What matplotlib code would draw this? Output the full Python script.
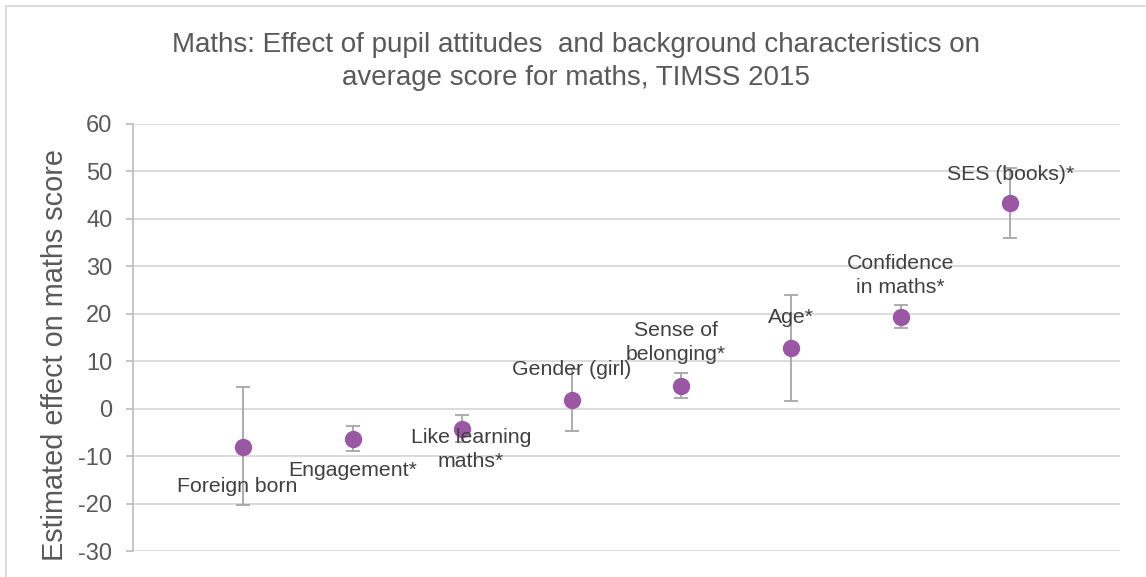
import matplotlib
matplotlib.use("Agg")
import matplotlib.pyplot as plt
from matplotlib.patches import Rectangle

plt.rcParams['font.family'] = ['Liberation Sans', 'DejaVu Sans']
plt.rcParams['axes.unicode_minus'] = False

labels = ["Foreign born", "Engagement*", "Like learning\nmaths*", "Gender (girl)",
          "Sense of\nbelonging*", "Age*", "Confidence\nin maths*", "SES (books)*"]
effect = [-8.0, -6.4, -4.2, 1.8, 4.85, 12.7, 19.3, 43.3]
ci_low = [-20.4, -9.0, -7.1, -4.7, 2.2, 1.7, 16.9, 35.9]
ci_high = [4.6, -3.7, -1.3, 8.3, 7.5, 23.9, 21.8, 50.7]

# label placement relative to each point (x offset in categories, y in score units)
label_dx = [-0.05, 0.0, 0.08, 0.0, -0.05, 0.0, 0.0, 0.0]
label_y = [-16.5, -13.0, -8.6, 8.2, 13.9, 19.2, 28.1, 49.4]

text_col = "#595959"
purple = "#9A57A3"

fig = plt.figure(figsize=(11.46, 5.77), dpi=100)
ax = fig.add_axes([133.3 / 1146, 1 - 551 / 577, (1120 - 133.3) / 1146, (551 - 124) / 577])

x = list(range(1, len(effect) + 1))
yerr = [[e - lo for e, lo in zip(effect, ci_low)],
        [hi - e for e, hi in zip(effect, ci_high)]]
ax.errorbar(x, effect, yerr=yerr, fmt='none', ecolor="#A6A6A6", elinewidth=1.3,
            capsize=5, capthick=1.3, zorder=2)
ax.plot(x, effect, 'o', color=purple, markersize=11.5, zorder=3)

for xi, lab, dx, ly in zip(x, labels, label_dx, label_y):
    ax.text(xi + dx, ly, lab, ha='center', va='center', fontsize=15.3,
            color="#404040", linespacing=1.3, zorder=4)

ax.set_xlim(0, 9)
ax.set_ylim(-30, 60)
ax.set_yticks(range(-30, 61, 10))
ax.set_xticks([])
ax.yaxis.grid(True, color="#D9D9D9", linewidth=1.3)
ax.set_axisbelow(True)
for s in ["top", "right", "bottom"]:
    ax.spines[s].set_visible(False)
ax.spines["left"].set_color("#BFBFBF")
ax.spines["left"].set_linewidth(1.3)
ax.tick_params(axis='y', length=5, width=1.3, color="#BFBFBF", pad=10,
               labelsize=17, labelcolor=text_col)

fig.text(55 / 1146, 1 - 355 / 577, "Estimated effect on maths score", rotation=90,
         ha='center', va='center', fontsize=20.8, color=text_col)

fig.text(0.503, 1 - 45 / 577, "Maths: Effect of pupil attitudes  and background characteristics on",
         ha='center', va='center', fontsize=20, color=text_col)
fig.text(0.503, 1 - 78 / 577, "average score for maths, TIMSS 2015",
         ha='center', va='center', fontsize=20, color=text_col)

# outer chart frame
fig.patches.append(Rectangle((6 / 1146, -0.2), 1.2, 1.2 - 6 / 577, transform=fig.transFigure,
                             fill=False, edgecolor="#D9D9D9", linewidth=1.3))

fig.savefig("out.png", dpi=100)
